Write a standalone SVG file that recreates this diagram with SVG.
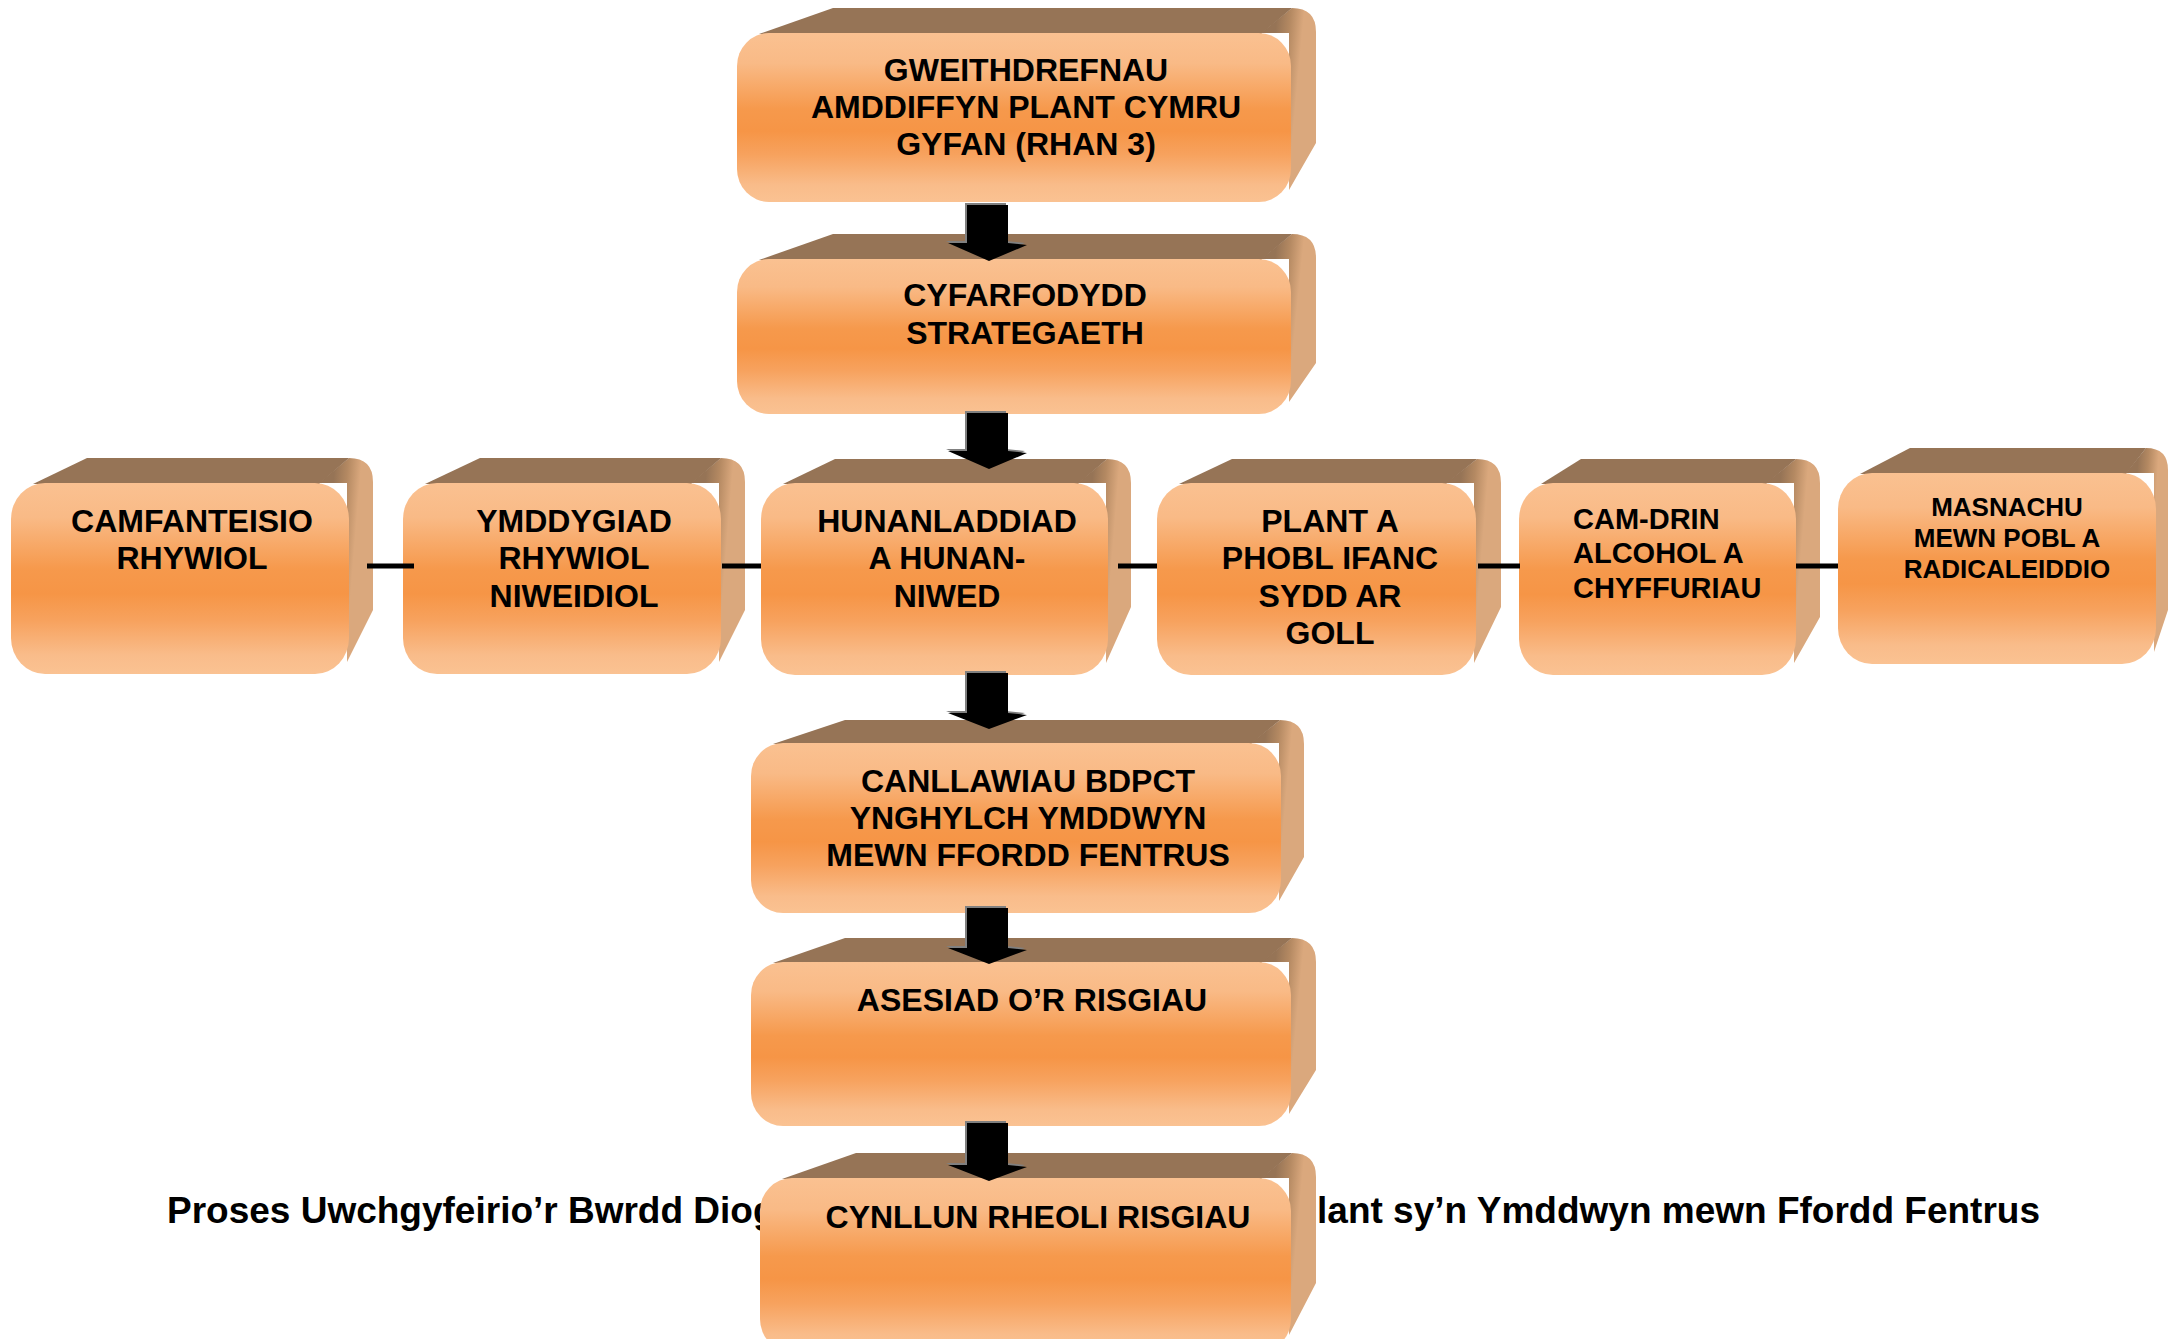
<svg xmlns="http://www.w3.org/2000/svg" width="2170" height="1339" viewBox="0 0 2170 1339">
<defs>
<linearGradient id="gFront" x1="0" y1="0" x2="0" y2="1">
<stop offset="0" stop-color="#FAC191"/>
<stop offset="0.18" stop-color="#F9BA86"/>
<stop offset="0.45" stop-color="#F6994C"/>
<stop offset="0.58" stop-color="#F69546"/>
<stop offset="0.72" stop-color="#F7A25E"/>
<stop offset="0.9" stop-color="#F9BC8A"/>
<stop offset="1" stop-color="#FAC292"/>
</linearGradient>
<linearGradient id="gSide" x1="0.3" y1="0" x2="0.75" y2="0.14">
<stop offset="0" stop-color="#967456"/>
<stop offset="0.5" stop-color="#B48962"/>
<stop offset="1" stop-color="#DAA87D"/>
</linearGradient>
<style>
.side{fill:url(#gSide);}
.top{fill:#967456;}
.front{fill:url(#gFront);}
.lbl{font-family:"Liberation Sans",Arial,sans-serif;font-weight:bold;font-size:32px;fill:#000;text-anchor:middle;}
.cap{font-family:"Liberation Sans",Arial,sans-serif;font-weight:bold;font-size:37px;fill:#000;}
.conn{stroke:#000;stroke-width:5;fill:none;}
.ash{fill:#808080;}
.arr{fill:#000;}
</style>
</defs>
<rect width="2170" height="1339" fill="#fff"/>

<g id="caption">
<text class="cap" x="167" y="1223">Proses Uwchgyfeirio’r Bwrdd Diog</text>
<text class="cap" x="2040" y="1223" text-anchor="end">lant sy’n Ymddwyn mewn Ffordd Fentrus</text>
</g>

<g id="n1">
<path class="side" d="M1261,33 L1292,8 Q1316,8 1316,32 L1316,143 L1289,190 L1289,33 Z"/>
<path class="top" d="M759,34 L833,8 L1292,8 L1261,34 Z"/>
<rect class="front" x="737" y="33" width="554" height="169" rx="32" ry="33"/>
<text class="lbl" x="1026" y="81">GWEITHDREFNAU</text>
<text class="lbl" x="1026" y="118">AMDDIFFYN PLANT CYMRU</text>
<text class="lbl" x="1026" y="155">GYFAN (RHAN 3)</text>
</g>

<g id="n2">
<path class="side" d="M1261,259 L1292,234 Q1316,234 1316,258 L1316,363 L1289,402 L1289,259 Z"/>
<path class="top" d="M759,260 L833,234 L1292,234 L1261,260 Z"/>
<rect class="front" x="737" y="259" width="554" height="155" rx="32" ry="33"/>
<text class="lbl" x="1025" y="306">CYFARFODYDD</text>
<text class="lbl" x="1025" y="344">STRATEGAETH</text>
</g>

<g id="nA">
<path class="side" d="M319,483 L349,458 Q373,458 373,482 L373,610 L347,662 L347,483 Z"/>
<path class="top" d="M33,484 L87,458 L349,458 L319,484 Z"/>
<rect class="front" x="11" y="483" width="338" height="191" rx="34" ry="36"/>
<text class="lbl" x="192" y="532">CAMFANTEISIO</text>
<text class="lbl" x="192" y="569">RHYWIOL</text>
</g>

<g id="nB">
<path class="side" d="M691,483 L721,458 Q745,458 745,482 L745,610 L719,662 L719,483 Z"/>
<path class="top" d="M425,484 L480,458 L721,458 L691,484 Z"/>
<rect class="front" x="403" y="483" width="318" height="191" rx="34" ry="36"/>
<text class="lbl" x="574" y="532">YMDDYGIAD</text>
<text class="lbl" x="574" y="569">RHYWIOL</text>
<text class="lbl" x="574" y="607">NIWEIDIOL</text>
</g>

<g id="n3">
<path class="side" d="M1078,483 L1107,459 Q1131,459 1131,483 L1131,607 L1106,663 L1106,483 Z"/>
<path class="top" d="M783,484 L835,459 L1107,459 L1078,484 Z"/>
<rect class="front" x="761" y="483" width="347" height="192" rx="34" ry="36"/>
<text class="lbl" x="947" y="532">HUNANLADDIAD</text>
<text class="lbl" x="947" y="569">A HUNAN-</text>
<text class="lbl" x="947" y="607">NIWED</text>
</g>

<g id="n4">
<path class="side" d="M1446,483 L1477,459 Q1501,459 1501,483 L1501,607 L1474,663 L1474,483 Z"/>
<path class="top" d="M1179,484 L1232,459 L1477,459 L1446,484 Z"/>
<rect class="front" x="1157" y="483" width="319" height="192" rx="34" ry="36"/>
<text class="lbl" x="1330" y="532">PLANT A</text>
<text class="lbl" x="1330" y="569">PHOBL IFANC</text>
<text class="lbl" x="1330" y="607">SYDD AR</text>
<text class="lbl" x="1330" y="644">GOLL</text>
</g>

<g id="nC">
<path class="side" d="M1766,483 L1796,459 Q1820,459 1820,483 L1820,617 L1794,663 L1794,483 Z"/>
<path class="top" d="M1541,484 L1581,459 L1796,459 L1766,484 Z"/>
<rect class="front" x="1519" y="483" width="277" height="192" rx="34" ry="36"/>
<text class="lbl" x="1573" y="529" style="text-anchor:start;font-size:29px">CAM-DRIN</text>
<text class="lbl" x="1573" y="563" style="text-anchor:start;font-size:29px">ALCOHOL A</text>
<text class="lbl" x="1573" y="598" style="text-anchor:start;font-size:29px">CHYFFURIAU</text>
</g>

<g id="nD">
<path class="side" d="M2126,473 L2146,448 Q2168,448 2168,470 L2168,610 L2154,652 L2154,473 Z"/>
<path class="top" d="M1860,474 L1910,448 L2146,448 L2126,474 Z"/>
<rect class="front" x="1838" y="473" width="318" height="191" rx="34" ry="36"/>
<text class="lbl" x="2007" y="516" style="font-size:26px">MASNACHU</text>
<text class="lbl" x="2007" y="547" style="font-size:26px">MEWN POBL A</text>
<text class="lbl" x="2007" y="578" style="font-size:26px">RADICALEIDDIO</text>
</g>

<g id="nE">
<path class="side" d="M1251,743 L1280,720 Q1304,720 1304,744 L1304,857 L1279,901 L1279,743 Z"/>
<path class="top" d="M773,744 L845,720 L1280,720 L1251,744 Z"/>
<rect class="front" x="751" y="743" width="530" height="170" rx="32" ry="33"/>
<text class="lbl" x="1028" y="792">CANLLAWIAU BDPCT</text>
<text class="lbl" x="1028" y="829">YNGHYLCH YMDDWYN</text>
<text class="lbl" x="1028" y="866">MEWN FFORDD FENTRUS</text>
</g>

<g id="nF">
<path class="side" d="M1261,962 L1292,938 Q1316,938 1316,962 L1316,1070 L1289,1114 L1289,962 Z"/>
<path class="top" d="M773,963 L845,938 L1292,938 L1261,963 Z"/>
<rect class="front" x="751" y="962" width="540" height="164" rx="32" ry="33"/>
<text class="lbl" x="1032" y="1011">ASESIAD O’R RISGIAU</text>
</g>

<g id="nG">
<path class="side" d="M1261,1178 L1292,1153 Q1316,1153 1316,1177 L1316,1283 L1289,1335 L1289,1178 Z"/>
<path class="top" d="M782,1179 L856,1153 L1292,1153 L1261,1179 Z"/>
<rect class="front" x="760" y="1178" width="531" height="174" rx="32" ry="33"/>
<text class="lbl" x="1038" y="1228">CYNLLUN RHEOLI RISGIAU</text>
</g>

<g id="connectors">
<line class="conn" x1="367" y1="566" x2="414" y2="566"/>
<line class="conn" x1="722" y1="566" x2="761" y2="566"/>
<line class="conn" x1="1118" y1="566" x2="1157" y2="566"/>
<line class="conn" x1="1478" y1="566" x2="1520" y2="566"/>
<line class="conn" x1="1796" y1="566" x2="1838" y2="566"/>
<g transform="translate(-2,-2)">
<path class="ash" d="M967,205 L1008,205 L1008,243 L1027,245 L989,261 L948,243 L967,243 Z"/>
<path class="ash" d="M967,413 L1008,413 L1008,451 L1027,453 L989,469 L948,451 L967,451 Z"/>
<path class="ash" d="M967,673 L1008,673 L1008,713 L1027,715 L989,729 L948,713 L967,713 Z"/>
<path class="ash" d="M967,908 L1008,908 L1008,948 L1027,950 L989,964 L948,948 L967,948 Z"/>
<path class="ash" d="M967,1123 L1008,1123 L1008,1165 L1027,1167 L989,1181 L948,1165 L967,1165 Z"/>
</g>
<path class="arr" d="M967,205 L1008,205 L1008,243 L1027,245 L989,261 L948,243 L967,243 Z"/>
<path class="arr" d="M967,413 L1008,413 L1008,451 L1027,453 L989,469 L948,451 L967,451 Z"/>
<path class="arr" d="M967,673 L1008,673 L1008,713 L1027,715 L989,729 L948,713 L967,713 Z"/>
<path class="arr" d="M967,908 L1008,908 L1008,948 L1027,950 L989,964 L948,948 L967,948 Z"/>
<path class="arr" d="M967,1123 L1008,1123 L1008,1165 L1027,1167 L989,1181 L948,1165 L967,1165 Z"/>
</g>
</svg>
